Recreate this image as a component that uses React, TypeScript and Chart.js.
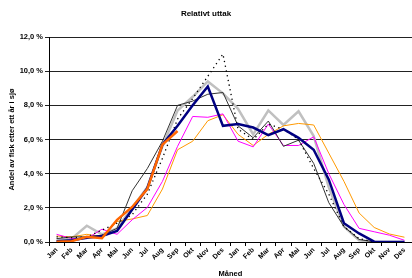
import { useEffect, useRef } from "react";
import { Chart, registerables } from "chart.js";

Chart.register(...registerables);

const months = [
  "Jan", "Feb", "Mar", "Apr", "Mai", "Jun", "Jul", "Aug", "Sep", "Okt", "Nov", "Des",
  "Jan", "Feb", "Mar", "Apr", "Mai", "Jun", "Jul", "Aug", "Sep", "Okt", "Nov", "Des",
];

const yMin = 0;
const yMax = 12;
const yStep = 2;

const orangeThick = [0.02, 0.05, 0.3, 0.22, 1.3, 2.05, 3.1, 5.7, 6.5, null, null, null, null, null, null, null, null, null, null, null, null, null, null, null];
const navy = [0.05, 0.1, 0.25, 0.35, 0.65, 1.9, 3.15, 5.7, 6.8, 8.0, 9.1, 6.8, 6.9, 6.7, 6.25, 6.6, 6.1, 5.4, 3.65, 1.1, 0.5, 0.02, 0, 0];
const dotted = [0.3, 0.25, 0.3, 0.7, 1.1, 1.6, 2.8, 4.9, 7.2, 8.4, 9.7, 11.0, 6.6, 6.0, 6.9, 6.6, 6.0, 4.3, 2.8, 0.9, 0.2, 0, 0, 0];
const darkGray = [0.2, 0.3, 0.3, 0.4, 0.8, 3.0, 4.3, 5.9, 8.0, 8.25, 8.65, 8.75, 6.8, 6.1, 7.08, 5.6, 5.96, 4.6, 2.3, 0.9, 0.15, 0, 0, 0];
const magenta = [0.45, 0.2, 0.2, 0.75, 0.45, 1.3, 2.02, 3.55, 5.6, 7.35, 7.3, 7.5, 5.9, 5.57, 6.9, 5.65, 5.65, 6.16, 4.0, 2.2, 0.8, 0.6, 0.4, 0.1];
const orangeThin = [0.35, 0.3, 0.45, 0.3, 1.2, 1.35, 1.55, 3.1, 5.4, 5.9, 7.1, 7.45, 6.3, 5.65, 6.3, 6.8, 6.94, 6.85, 5.2, 3.55, 1.7, 0.85, 0.47, 0.28];
const lightGray = [0.15, 0.2, 0.95, 0.45, 0.8, 2.0, 3.2, 5.6, 7.7, 8.5, 9.4, 8.7, 7.8, 6.3, 7.7, 6.85, 7.65, 6.2, 3.2, 0.9, 0.1, 0, 0, 0];

const FONT = "'Liberation Sans', Arial, sans-serif";

export default function App() {
  const canvasRef = useRef<HTMLCanvasElement | null>(null);

  useEffect(() => {
    const canvas = canvasRef.current;
    if (!canvas) return;
    const line = (data: (number | null)[], color: string, width: number, order: number, dash: number[] = []) => ({
      data,
      borderColor: color,
      backgroundColor: color,
      borderWidth: width,
      borderDash: dash,
      pointRadius: 0,
      tension: 0,
      fill: false,
      spanGaps: false,
      order,
    });
    const chart = new Chart(canvas, {
      type: "line",
      data: {
        labels: months,
        datasets: [
          line(lightGray, "#C0C0C0", 2.5, 7),
          line(orangeThin, "#FF9900", 1, 6),
          line(magenta, "#FF00FF", 1, 5),
          line(darkGray, "#333333", 1, 4),
          line(dotted, "#000000", 1.3, 3, [1.3, 3.5]),
          line(navy, "#000080", 2.5, 2),
          line(orangeThick, "#FF6600", 2.5, 1),
        ],
      },
      options: {
        animation: false,
        responsive: false,
        devicePixelRatio: 1,
        layout: { padding: { left: 0, right: 0, top: 0, bottom: 0 } },
        plugins: {
          legend: { display: false },
          tooltip: { enabled: false },
          title: {
            display: true,
            text: "Relativt uttak",
            color: "#000",
            font: { family: FONT, size: 8, weight: "bold" },
            padding: { top: 9.2, bottom: 18.2 },
          },
        },
        scales: {
          x: {
            type: "category",
            offset: true,
            grid: {
              display: true,
              drawOnChartArea: false,
              drawTicks: true,
              tickLength: 4,
              color: "#000",
              offset: true,
            },
            border: { display: true, color: "#000", width: 1 },
            ticks: {
              color: "#000",
              font: { family: FONT, size: 7, weight: "bold" },
              maxRotation: 45,
              minRotation: 45,
              autoSkip: false,
              padding: 0,
            },
            title: {
              display: true,
              text: "Måned",
              color: "#000",
              font: { family: FONT, size: 7.5, weight: "bold" },
              padding: { top: 0, bottom: 0 },
            },
            afterFit: (scale: any) => {
              scale.height = 36;
            },
          },
          y: {
            min: yMin,
            max: yMax,
            grid: {
              color: "#222",
              lineWidth: 1,
              tickLength: 4,
              drawTicks: true,
            },
            border: { display: true, color: "#000", width: 1 },
            ticks: {
              stepSize: yStep,
              color: "#000",
              padding: 2,
              font: { family: FONT, size: 7.5, weight: "bold" },
              callback: (v: any) => Number(v).toFixed(1).replace(".", ",") + " %",
            },
            title: {
              display: true,
              text: "Andel av fisk etter ett år i sjø",
              color: "#000",
              font: { family: FONT, size: 7.5, weight: "bold" },
              padding: { top: 7.5, bottom: 0 },
            },
            afterFit: (scale: any) => {
              scale.width = 49;
            },
          },
        },
      },
    } as any);
    return () => chart.destroy();
  }, []);

  return (
    <div style={{ position: "absolute", left: 0, top: 0, width: 412, height: 278, background: "#fff" }}>
      <canvas ref={canvasRef} width={412} height={278} style={{ display: "block" }} />
    </div>
  );
}
